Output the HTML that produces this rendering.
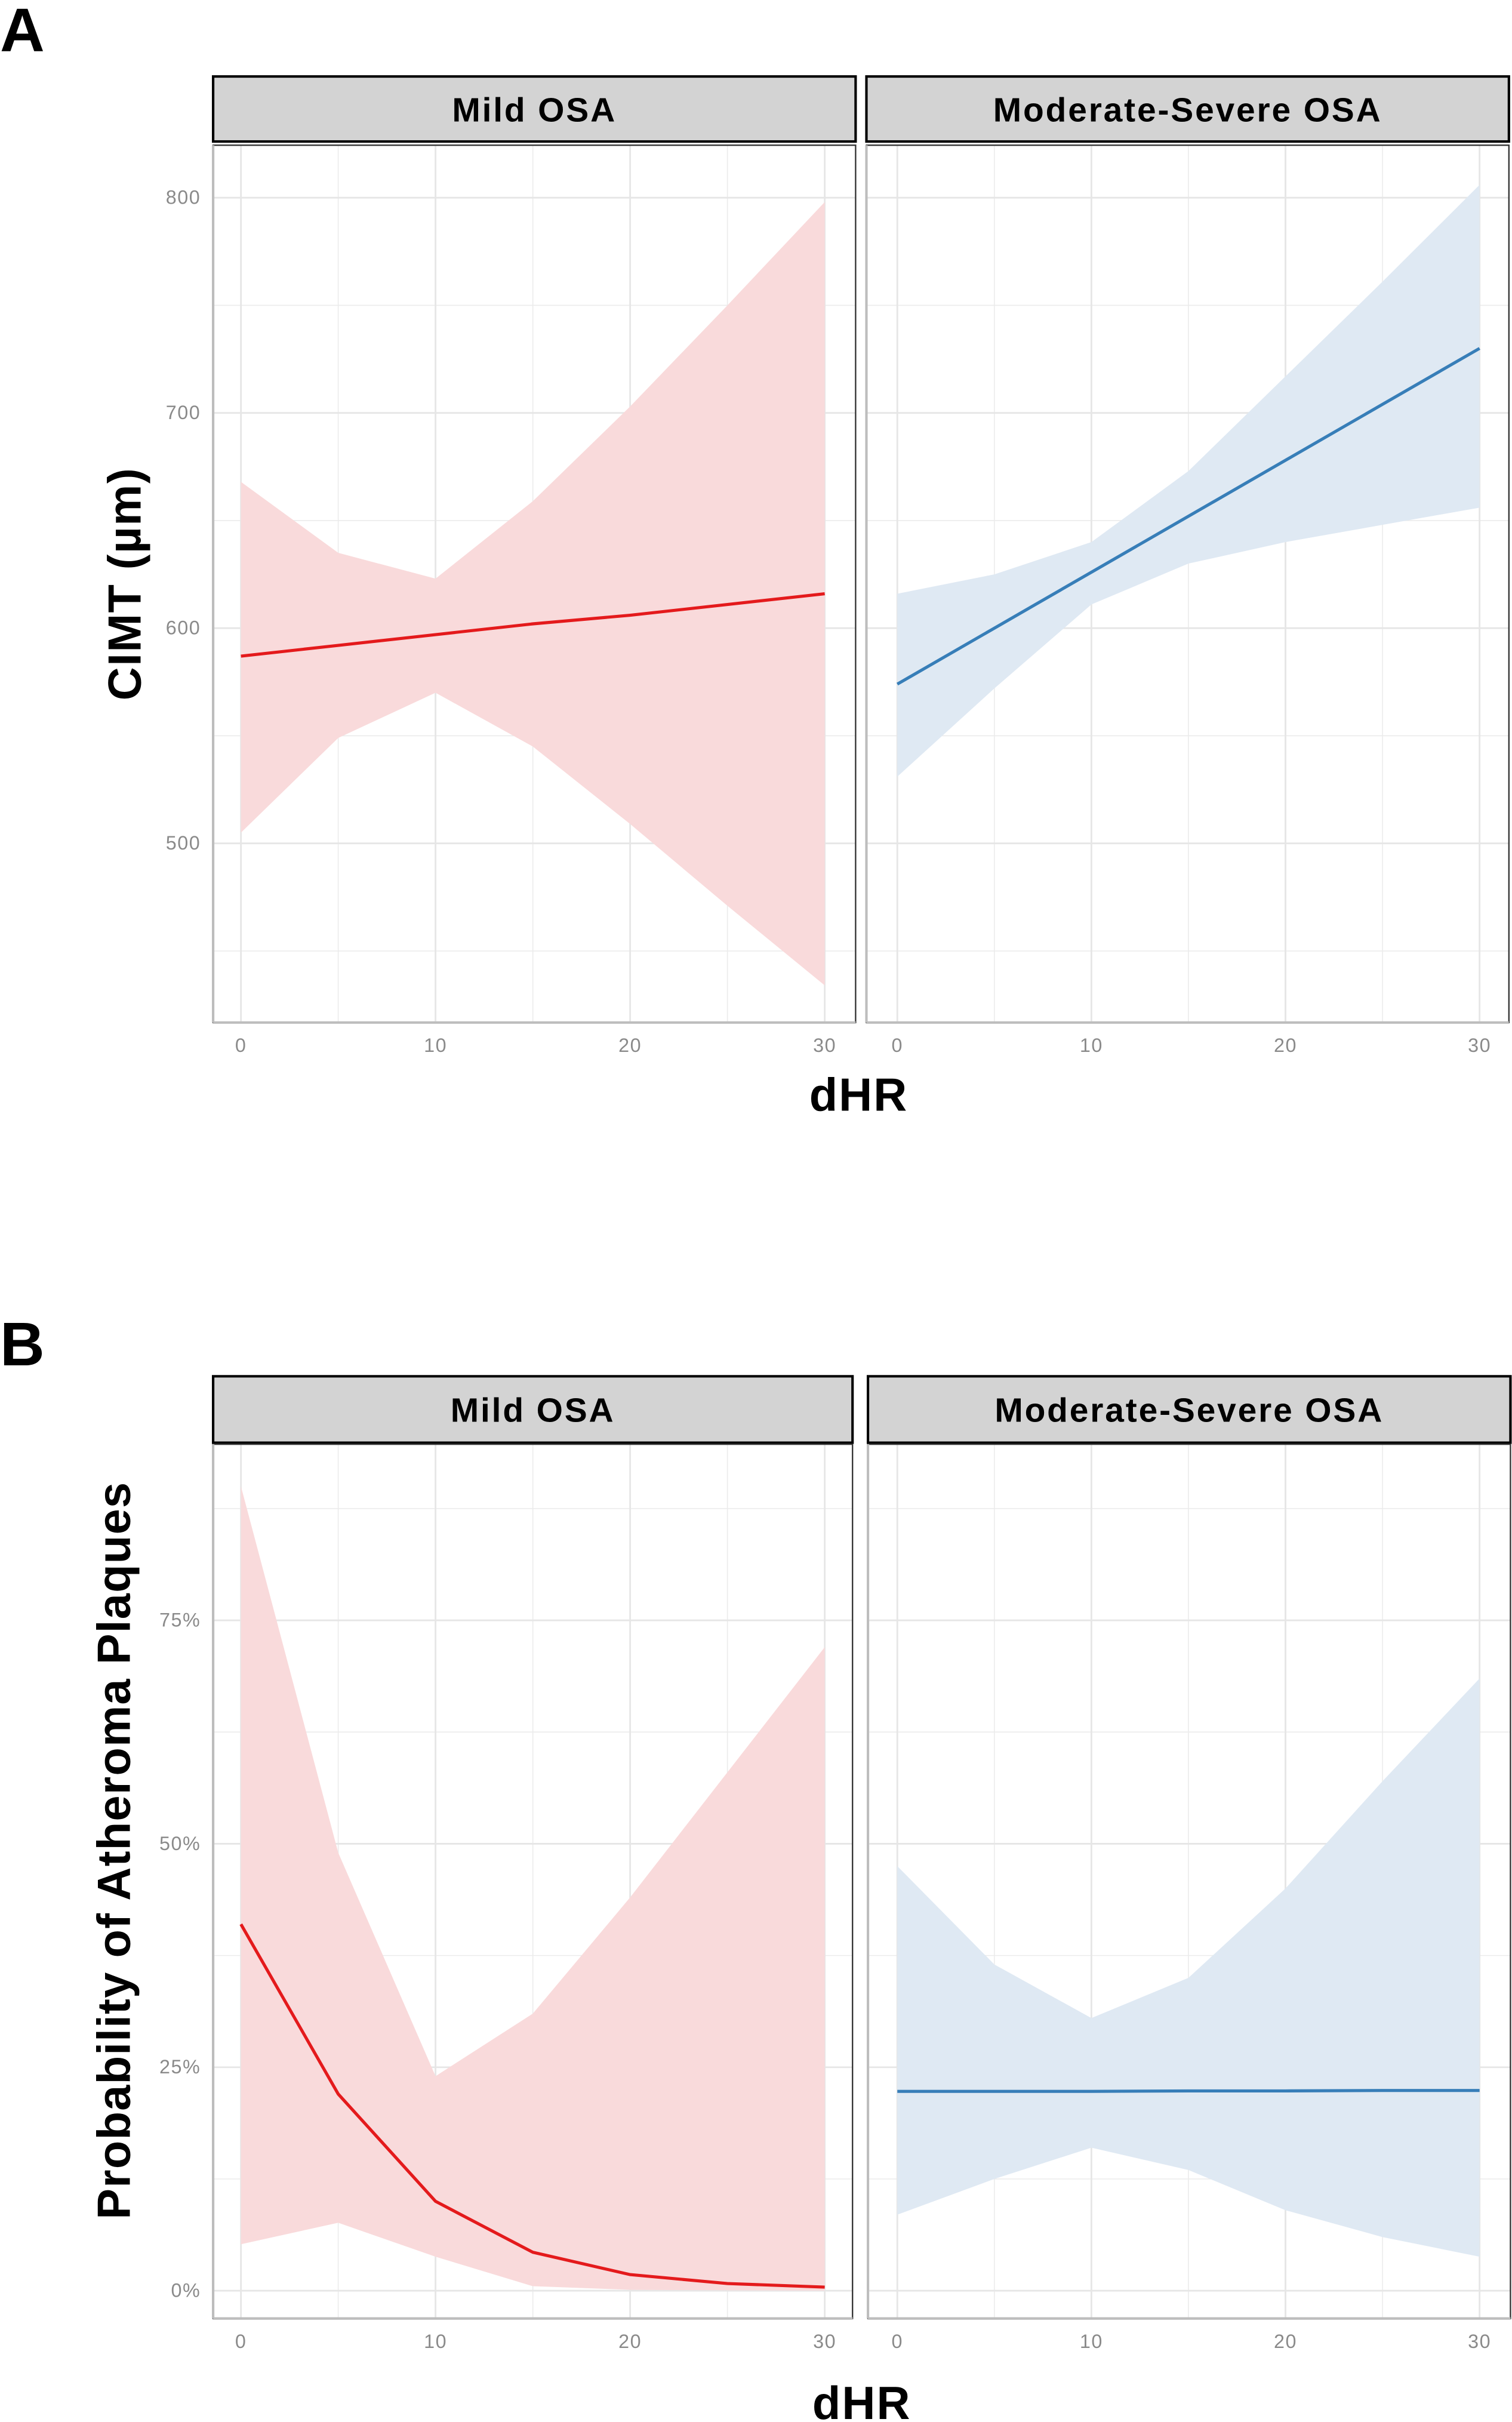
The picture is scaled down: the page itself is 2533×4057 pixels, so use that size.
<!DOCTYPE html>
<html><head><meta charset="utf-8"><style>
html,body{margin:0;padding:0;background:#fff}
svg{display:block}
text{font-family:"Liberation Sans",Arial,sans-serif}
</style></head><body>
<svg id="fig" width="2533" height="4057" viewBox="0 0 979 1568" xmlns="http://www.w3.org/2000/svg"></svg>
<script>
const xVals = [0,5,10,15,20,25,30];
const xTicks = [0,10,20,30];
// Panel A (CIMT, µm)
const aMildFit = [587,592,597,602,606,611,616];
const aMildUp  = [668,635,623,659,703,750,798];
const aMildLo  = [505,549,570,545,509,471,434];
const aModFit  = [574,600,626,652,678,704,730];
const aModUp   = [616,625,640,673,717,761,806];
const aModLo   = [531,572,611,630,640,648,656];
const aTicks = [500,600,700,800];
const aTickLabels = ["500","600","700","800"];
const aMinor = [450,550,650,750];
// Panel B (probability, %)
const bMildFit = [41,22,10,4.3,1.8,0.8,0.4];
const bMildUp  = [90,49,24,31,44,58,72];
const bMildLo  = [5.2,7.6,3.8,0.5,0.1,0.05,0.02];
const bModFit  = [22.3,22.3,22.3,22.35,22.35,22.4,22.4];
const bModUp   = [47.5,36.5,30.5,35,45,57,68.5];
const bModLo   = [8.5,12.5,16,13.5,9,6,3.8];
const bTicks = [0,25,50,75];
const bTickLabels = ["0%","25%","50%","75%"];
const bMinor = [12.5,37.5,62.5,87.5];

const NS="http://www.w3.org/2000/svg";
const svg=document.getElementById('fig');
function mk(tag,attrs,parent){const e=document.createElementNS(NS,tag);for(const k in attrs)e.setAttribute(k,attrs[k]);(parent||svg).appendChild(e);return e;}

function panel(opts){
  const {x0,x1,y0,y1,stripY0,stripY1,title,xmap,ymap,ticks,tickLabels,minor,fit,up,lo,color,fill,name,clipId}=opts;
  const g=mk('g',{});
  
  
  const strip=mk('rect',{x:x0,y:stripY0,width:x1-x0,height:stripY1-stripY0,fill:'#d3d3d3',stroke:'#000','stroke-width':1.6},g);
  
  
  const st=mk('text',{x:(x0+x1)/2,y:(stripY0+stripY1)/2+8,'text-anchor':'middle','font-size':22,'font-weight':'bold',fill:'#000','letter-spacing':1.1},g);
  st.textContent=title;
  
  
  const cp=mk('clipPath',{id:clipId},g);
  mk('rect',{x:x0,y:y0,width:x1-x0,height:y1-y0},cp);
  minor.forEach(v=>{const l=mk('line',{x1:x0,x2:x1,y1:ymap(v),y2:ymap(v),stroke:'#ebebeb','stroke-width':0.6},g);
    });
  [5,15,25].forEach(v=>{const l=mk('line',{x1:xmap(v),x2:xmap(v),y1:y0,y2:y1,stroke:'#ebebeb','stroke-width':0.6},g);
    });
  ticks.forEach(v=>{const l=mk('line',{x1:x0,x2:x1,y1:ymap(v),y2:ymap(v),stroke:'#e6e6e6','stroke-width':1.1},g);
    });
  xTicks.forEach(v=>{const l=mk('line',{x1:xmap(v),x2:xmap(v),y1:y0,y2:y1,stroke:'#e6e6e6','stroke-width':1.1},g);
    });
  let d='M'+xVals.map((x,i)=>xmap(x)+','+ymap(up[i])).join('L');
  for(let i=xVals.length-1;i>=0;i--) d+='L'+xmap(xVals[i])+','+ymap(lo[i]);
  const rib=mk('path',{d:d+'Z',fill:fill,'clip-path':'url(#'+clipId+')'},g);
  
  
  const ln=mk('polyline',{points:xVals.map((x,i)=>xmap(x)+','+ymap(fit[i])).join(' '),fill:'none',stroke:color,'stroke-width':2,'clip-path':'url(#'+clipId+')'},g);
  
  
  mk('rect',{x:x0,y:y0,width:x1-x0,height:y1-y0,fill:'none',stroke:'#333','stroke-width':0.9},g);
  const ax=mk('line',{x1:x0,x2:x0,y1:y0,y2:y1,stroke:'#bdbdbd','stroke-width':1.6},g);
  
  const bx=mk('line',{x1:x0,x2:x1,y1:y1,y2:y1,stroke:'#bdbdbd','stroke-width':1.6},g);
  
  xTicks.forEach(v=>{const t=mk('text',{x:xmap(v),y:y1+19,'text-anchor':'middle','font-size':12.5,fill:'#8a8a8a','letter-spacing':0.6},g);t.textContent=v;
    });
  if(opts.showY){
    ticks.forEach((v,i)=>{const t=mk('text',{x:x0-8,y:ymap(v)+4,'text-anchor':'end','font-size':12.5,fill:'#8a8a8a','letter-spacing':0.6},g);t.textContent=tickLabels[i];
      });
  }
}

const xA1=v=>156+v*(534-156)/30, xA2=v=>581+v*(958-581)/30;
const yA=v=>546-(v-500)*(546-128)/300;
panel({x0:138,x1:554,y0:94,y1:662,stripY0:49.5,stripY1:91.6,title:'Mild OSA',xmap:xA1,ymap:yA,ticks:aTicks,tickLabels:aTickLabels,minor:aMinor,fit:aMildFit,up:aMildUp,lo:aMildLo,color:'#e41a1c',fill:'#f9dadb',name:'a-mild',clipId:'c1',showY:true});
panel({x0:561,x1:977,y0:94,y1:662,stripY0:49.5,stripY1:91.6,title:'Moderate-Severe OSA',xmap:xA2,ymap:yA,ticks:aTicks,tickLabels:aTickLabels,minor:aMinor,fit:aModFit,up:aModUp,lo:aModLo,color:'#377eb8',fill:'#dfe9f3',name:'a-moderate-severe',clipId:'c2',showY:false});
const xB1=v=>156+v*(534-156)/30, xB2=v=>581+v*(958-581)/30;
const yB=v=>1483-v*(1483-1049)/75;
panel({x0:138,x1:552,y0:935,y1:1501,stripY0:891,stripY1:934,title:'Mild OSA',xmap:xB1,ymap:yB,ticks:bTicks,tickLabels:bTickLabels,minor:bMinor,fit:bMildFit,up:bMildUp,lo:bMildLo,color:'#e41a1c',fill:'#f9dadb',name:'b-mild',clipId:'c3',showY:true});
panel({x0:562,x1:978,y0:935,y1:1501,stripY0:891,stripY1:934,title:'Moderate-Severe OSA',xmap:xB2,ymap:yB,ticks:bTicks,tickLabels:bTickLabels,minor:bMinor,fit:bModFit,up:bModUp,lo:bModLo,color:'#377eb8',fill:'#dfe9f3',name:'b-moderate-severe',clipId:'c4',showY:false});

function label(txt,attrs,name){const t=mk('text',attrs);t.textContent=txt;}
label('A',{x:0,y:33,'font-size':40,'font-weight':'bold'},'panel-a-label');
label('B',{x:0,y:884,'font-size':40,'font-weight':'bold'},'panel-b-label');
label('dHR',{x:556,y:719,'text-anchor':'middle','font-size':30,'font-weight':'bold','letter-spacing':0.8},'x-axis-title-a');
label('dHR',{x:558,y:1566,'text-anchor':'middle','font-size':30,'font-weight':'bold','letter-spacing':0.8},'x-axis-title-b');
label('CIMT (µm)',{x:0,y:0,'text-anchor':'middle','font-size':30,'font-weight':'bold','letter-spacing':0.6,transform:'translate(91,378) rotate(-90)'},'y-axis-title-a');
label('Probability of Atheroma Plaques',{x:0,y:0,'text-anchor':'middle','font-size':30,'font-weight':'bold','letter-spacing':0.5,transform:'translate(84,1198) rotate(-90)'},'y-axis-title-b');
</script>
</body></html>
